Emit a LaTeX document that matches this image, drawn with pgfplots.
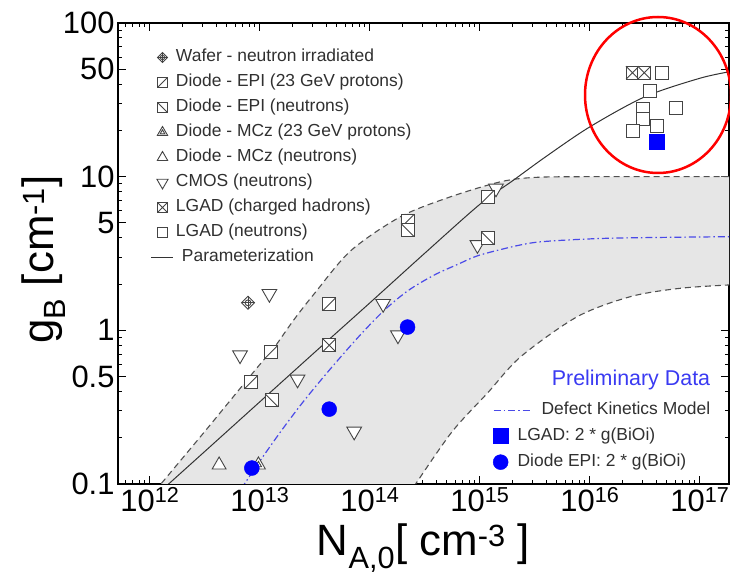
\documentclass[border=0pt]{standalone}
\usepackage{fontspec}
\setmainfont{Liberation Sans}
\usepackage{pgfplots}
\pgfplotsset{compat=1.18}
\usepgfplotslibrary{fillbetween}

\definecolor{bandgray}{HTML}{E6E6E6}
\definecolor{dashgray}{HTML}{505050}
\definecolor{markgray}{HTML}{444444}
\definecolor{paramgray}{HTML}{333333}
\definecolor{dkblue}{HTML}{4A4AE8}
\definecolor{pureblue}{HTML}{0000FF}
\definecolor{prelim}{HTML}{3A3AF2}
\definecolor{legtext}{HTML}{303030}

\pgfdeclareplotmark{sqslash}{%
  \pgfpathrectangle{\pgfpoint{-\pgfplotmarksize}{-\pgfplotmarksize}}{\pgfpoint{2\pgfplotmarksize}{2\pgfplotmarksize}}%
  \pgfusepathqfillstroke
  \pgfpathmoveto{\pgfpoint{-\pgfplotmarksize}{-\pgfplotmarksize}}%
  \pgfpathlineto{\pgfpoint{\pgfplotmarksize}{\pgfplotmarksize}}%
  \pgfusepathqstroke}
\pgfdeclareplotmark{sqbslash}{%
  \pgfpathrectangle{\pgfpoint{-\pgfplotmarksize}{-\pgfplotmarksize}}{\pgfpoint{2\pgfplotmarksize}{2\pgfplotmarksize}}%
  \pgfusepathqfillstroke
  \pgfpathmoveto{\pgfpoint{-\pgfplotmarksize}{\pgfplotmarksize}}%
  \pgfpathlineto{\pgfpoint{\pgfplotmarksize}{-\pgfplotmarksize}}%
  \pgfusepathqstroke}
\pgfdeclareplotmark{sqcross}{%
  \pgfpathrectangle{\pgfpoint{-\pgfplotmarksize}{-\pgfplotmarksize}}{\pgfpoint{2\pgfplotmarksize}{2\pgfplotmarksize}}%
  \pgfusepathqfillstroke
  \pgfpathmoveto{\pgfpoint{-\pgfplotmarksize}{\pgfplotmarksize}}%
  \pgfpathlineto{\pgfpoint{\pgfplotmarksize}{-\pgfplotmarksize}}%
  \pgfpathmoveto{\pgfpoint{-\pgfplotmarksize}{-\pgfplotmarksize}}%
  \pgfpathlineto{\pgfpoint{\pgfplotmarksize}{\pgfplotmarksize}}%
  \pgfusepathqstroke}
\pgfdeclareplotmark{sqopen}{%
  \pgfpathrectangle{\pgfpoint{-\pgfplotmarksize}{-\pgfplotmarksize}}{\pgfpoint{2\pgfplotmarksize}{2\pgfplotmarksize}}%
  \pgfusepathqfillstroke}
\pgfdeclareplotmark{diamondplus}{%
  \pgfpathmoveto{\pgfpoint{0pt}{\pgfplotmarksize}}%
  \pgfpathlineto{\pgfpoint{\pgfplotmarksize}{0pt}}%
  \pgfpathlineto{\pgfpoint{0pt}{-\pgfplotmarksize}}%
  \pgfpathlineto{\pgfpoint{-\pgfplotmarksize}{0pt}}%
  \pgfpathclose
  \pgfusepathqfillstroke
  \pgfpathmoveto{\pgfpoint{0pt}{\pgfplotmarksize}}\pgfpathlineto{\pgfpoint{0pt}{-\pgfplotmarksize}}%
  \pgfpathmoveto{\pgfpoint{-\pgfplotmarksize}{0pt}}\pgfpathlineto{\pgfpoint{\pgfplotmarksize}{0pt}}%
  \pgfusepathqstroke
  \pgfpathcircle{\pgfpointorigin}{0.45\pgfplotmarksize}\pgfusepathqstroke}
\pgfdeclareplotmark{triup}{%
  \pgfpathmoveto{\pgfpoint{0pt}{\pgfplotmarksize}}%
  \pgfpathlineto{\pgfpoint{-0.866\pgfplotmarksize}{-0.5\pgfplotmarksize}}%
  \pgfpathlineto{\pgfpoint{0.866\pgfplotmarksize}{-0.5\pgfplotmarksize}}%
  \pgfpathclose
  \pgfusepathqfillstroke}
\pgfdeclareplotmark{triinner}{%
  \pgfpathmoveto{\pgfpoint{0pt}{\pgfplotmarksize}}%
  \pgfpathlineto{\pgfpoint{-0.866\pgfplotmarksize}{-0.5\pgfplotmarksize}}%
  \pgfpathlineto{\pgfpoint{0.866\pgfplotmarksize}{-0.5\pgfplotmarksize}}%
  \pgfpathclose
  \pgfusepathqfillstroke
  \pgfpathmoveto{\pgfpoint{0pt}{0.45\pgfplotmarksize}}%
  \pgfpathlineto{\pgfpoint{-0.39\pgfplotmarksize}{-0.225\pgfplotmarksize}}%
  \pgfpathlineto{\pgfpoint{0.39\pgfplotmarksize}{-0.225\pgfplotmarksize}}%
  \pgfpathclose
  \pgfusepathqstroke}
\pgfdeclareplotmark{tridown}{%
  \pgfpathmoveto{\pgfpoint{0pt}{-\pgfplotmarksize}}%
  \pgfpathlineto{\pgfpoint{-0.866\pgfplotmarksize}{0.5\pgfplotmarksize}}%
  \pgfpathlineto{\pgfpoint{0.866\pgfplotmarksize}{0.5\pgfplotmarksize}}%
  \pgfpathclose
  \pgfusepathqfillstroke}

\pgfplotsset{
  openmk/.style={only marks, mark options={draw=markgray, fill=white, line width=0.9bp, solid}},
}

\begin{document}
\begin{tikzpicture}
\begin{axis}[
  at={(0,0)}, anchor=south west,
  scale only axis, width=611bp, height=461bp,
  xmode=log, ymode=log,
  xmin=5.13e11, xmax=1.84e17, ymin=0.1, ymax=100,
  axis line style={line width=1.5bp, black},
  tick align=inside,
  major tick length=8bp, minor tick length=4.5bp,
  every tick/.style={black, line width=1bp},
  xtick={1e12,1e13,1e14,1e15,1e16,1e17},
  xticklabels={10\textsuperscript{12},10\textsuperscript{13},10\textsuperscript{14},10\textsuperscript{15},10\textsuperscript{16},10\textsuperscript{17}},
  minor xtick={6e11,7e11,8e11,9e11,
    2e12,3e12,4e12,5e12,6e12,7e12,8e12,9e12,
    2e13,3e13,4e13,5e13,6e13,7e13,8e13,9e13,
    2e14,3e14,4e14,5e14,6e14,7e14,8e14,9e14,
    2e15,3e15,4e15,5e15,6e15,7e15,8e15,9e15,
    2e16,3e16,4e16,5e16,6e16,7e16,8e16,9e16},
  ytick={0.1,0.5,1,5,10,50,100},
  yticklabels={0.1,0.5,1,5,10,50,100},
  minor ytick={0.2,0.3,0.4,0.6,0.7,0.8,0.9,2,3,4,6,7,8,9,20,30,40,60,70,80,90},
  ticklabel style={font=\fontsize{31}{31}\selectfont},
  xlabel={N\textsubscript{A,0}[ cm\textsuperscript{-3} ]},
  ylabel={g\textsubscript{B} [cm\textsuperscript{-1}]},
  xlabel style={font=\fontsize{44}{44}\selectfont, at={(axis description cs:0.5,-0.139)}, anchor=center},
  ylabel style={font=\fontsize{44}{44}\selectfont, at={(axis description cs:-0.122,0.487)}, anchor=center},
  legend style={at={(axis description cs:0.054,0.948)}, anchor=north west, draw=none, fill=none,
    inner sep=0pt, outer sep=0pt, row sep=4bp, font=\fontsize{17.5}{17.5}\selectfont, text=legtext,
    nodes={inner sep=2bp, text height=12.5bp, text depth=4.5bp}},
  legend cell align=left,
  legend image code/.code={\path[draw=none, fill=none] (0bp,-6bp) rectangle (22bp,6bp); \draw[#1] plot coordinates {(11bp,0bp)};},
]
% band
\addplot[name path=up, draw=none, smooth, forget plot] coordinates {
 (9.8e11,0.08) (1.26e12,0.1) (3.16e12,0.22) (1e13,0.6) (1.26e13,0.72) (2e13,1.15) (3.16e13,1.75)
 (6.71e13,3.3) (1.91e14,5.5) (5.45e14,7.41) (1.55e15,9.27) (3.16e15,9.89) (1e16,10) (2e17,10)};
\addplot[name path=lo, draw=none, smooth, forget plot] coordinates {
 (2.24e14,0.085) (5.45e14,0.214) (1.17e15,0.39) (2.36e15,0.675) (7.73e15,1.23) (2.36e16,1.66) (6.71e16,1.88) (2e17,1.98)};
\addplot[bandgray, forget plot] fill between[of=up and lo];
\addplot[dashgray, line width=1.1bp, dash pattern=on 6bp off 4bp, smooth, forget plot] coordinates {
 (9.8e11,0.08) (1.26e12,0.1) (3.16e12,0.22) (1e13,0.6) (1.26e13,0.72) (2e13,1.15) (3.16e13,1.75)
 (6.71e13,3.3) (1.91e14,5.5) (5.45e14,7.41) (1.55e15,9.27) (3.16e15,9.89) (1e16,10) (2e17,10)};
\addplot[dashgray, line width=1.1bp, dash pattern=on 6bp off 4bp, smooth, forget plot] coordinates {
 (2.24e14,0.085) (5.45e14,0.214) (1.17e15,0.39) (2.36e15,0.675) (7.73e15,1.23) (2.36e16,1.66) (6.71e16,1.88) (2e17,1.98)};
% parameterization
\addplot[paramgray, line width=1bp, smooth, forget plot] coordinates {
 (1.17e12,0.086) (1.48e12,0.1) (3.16e12,0.163) (1e13,0.343) (3.16e13,0.721) (1e14,1.51) (3.16e14,3.18)
 (1e15,6.61) (2e15,9.44) (3.98e15,13.5) (1e16,21.1) (3.16e16,33.1) (1e17,43.7) (1.9e17,48.3)};
% defect kinetics model
\addplot[dkblue, line width=1.2bp, dash pattern=on 7bp off 3bp on 1.5bp off 3bp, smooth, forget plot] coordinates {
 (6.76e12,0.093) (1e13,0.141) (1.58e13,0.224) (2.51e13,0.347) (4.27e13,0.55) (7.94e13,0.912) (1.35e14,1.35)
 (2.24e14,1.82) (3.85e14,2.29) (6.31e14,2.69) (1e15,3.09) (2.36e15,3.6) (4.12e15,3.8) (1.58e16,3.98) (2e17,4.07)};
% data
\addplot[openmk, mark=diamondplus, mark size=6.5bp, forget plot] coordinates {(7.8e12,1.51)};
\addplot[openmk, mark=tridown, mark size=8.5bp, forget plot] coordinates {
 (1.22e13,1.73) (6.6e12,0.69) (2.2e13,0.48) (7.2e13,0.22) (1.32e14,1.49) (1.8e14,0.93) (9.5e14,3.6) (1.4e15,8.4)};
\addplot[openmk, mark=triup, mark size=8bp, forget plot] coordinates {(4.26e12,0.133)};
\addplot[openmk, mark=triinner, mark size=8bp, forget plot] coordinates {(9.7e12,0.133)};
\addplot[openmk, mark=sqslash, mark size=6.5bp, forget plot] coordinates {
 (4.27e13,1.48) (1.26e13,0.72) (8.3e12,0.46) (2.2e14,5.15) (1.18e15,7.4)};
\addplot[openmk, mark=sqbslash, mark size=6.5bp, forget plot] coordinates {
 (1.28e13,0.35) (2.2e14,4.5) (1.18e15,3.97)};
\addplot[openmk, mark=sqcross, mark size=6.5bp, forget plot] coordinates {(4.27e13,0.80) (2.44e16,47.5) (3.12e16,47.5)};
\addplot[openmk, mark=sqopen, mark size=6.5bp, forget plot] coordinates {
 (4.5e16,47.5) (3.53e16,36.1) (3.05e16,27.4) (3.05e16,23.7) (6.05e16,28.1) (2.44e16,19.8) (4.04e16,21.4)};
\addplot[only marks, mark=square*, mark size=7.5bp, color=pureblue, forget plot] coordinates {(4.04e16,16.9)};
\addplot[only marks, mark=*, mark size=7.5bp, color=pureblue, forget plot] coordinates {
 (8.45e12,0.127) (4.27e13,0.307) (2.2e14,1.05)};
% legend
\addlegendimage{openmk, mark=diamondplus, mark size=5bp}
\addlegendentry{Wafer - neutron irradiated}
\addlegendimage{openmk, mark=sqslash, mark size=5bp}
\addlegendentry{Diode - EPI (23 GeV protons)}
\addlegendimage{openmk, mark=sqbslash, mark size=5bp}
\addlegendentry{Diode - EPI (neutrons)}
\addlegendimage{openmk, mark=triinner, mark size=6bp}
\addlegendentry{Diode - MCz (23 GeV protons)}
\addlegendimage{openmk, mark=triup, mark size=6bp}
\addlegendentry{Diode - MCz (neutrons)}
\addlegendimage{openmk, mark=tridown, mark size=6.5bp}
\addlegendentry{CMOS (neutrons)}
\addlegendimage{openmk, mark=sqcross, mark size=5bp}
\addlegendentry{LGAD (charged hadrons)}
\addlegendimage{openmk, mark=sqopen, mark size=5bp}
\addlegendentry{LGAD (neutrons)}
\addlegendimage{legend image code/.code={\path[draw=none, fill=none] (0bp,-6bp) rectangle (22bp,6bp); \draw[paramgray, line width=1bp] (0bp,0bp) -- (22bp,0bp);}}
\addlegendentry{\hspace{6bp}Parameterization}
\end{axis}
\begin{axis}[
  at={(0,0)}, anchor=south west,
  scale only axis, width=611bp, height=461bp,
  hide axis, xmin=0, xmax=1, ymin=0, ymax=1,
  legend style={at={(axis description cs:0.614,0.183)}, anchor=north west, draw=none, fill=none,
    inner sep=0pt, outer sep=0pt, row sep=5bp, font=\fontsize{17.5}{17.5}\selectfont, text=legtext,
    nodes={inner sep=2bp, text height=12.5bp, text depth=4.5bp}},
  legend cell align=left,
  legend image code/.code={\path[draw=none, fill=none] (0bp,-6bp) rectangle (22bp,6bp); \draw[#1] plot coordinates {(7bp,0bp)};},
]
\addlegendimage{legend image code/.code={\path[draw=none, fill=none] (0bp,-6bp) rectangle (22bp,6bp); \draw[overlay, dkblue, line width=1.2bp, dash pattern=on 7bp off 3bp on 1.5bp off 3bp] (0bp,0bp) -- (38bp,0bp);}}
\addlegendentry{\hspace{24bp}Defect Kinetics Model}
\addlegendimage{only marks, mark=square*, mark size=7.5bp, color=pureblue}
\addlegendentry{LGAD: 2 * g(BiOi)}
\addlegendimage{only marks, mark=*, mark size=7.5bp, color=pureblue}
\addlegendentry{Diode EPI: 2 * g(BiOi)}
\end{axis}
\node[font=\fontsize{21.5}{21.5}\selectfont, text=prelim] at (513bp,104bp) {Preliminary Data};
\draw[red, line width=2.5bp] (540bp,389bp) ellipse [x radius=73bp, y radius=78bp];
\pgfresetboundingbox
\path[use as bounding box] (-118bp,-96bp) rectangle (612bp,484bp);
\end{tikzpicture}
\end{document}
